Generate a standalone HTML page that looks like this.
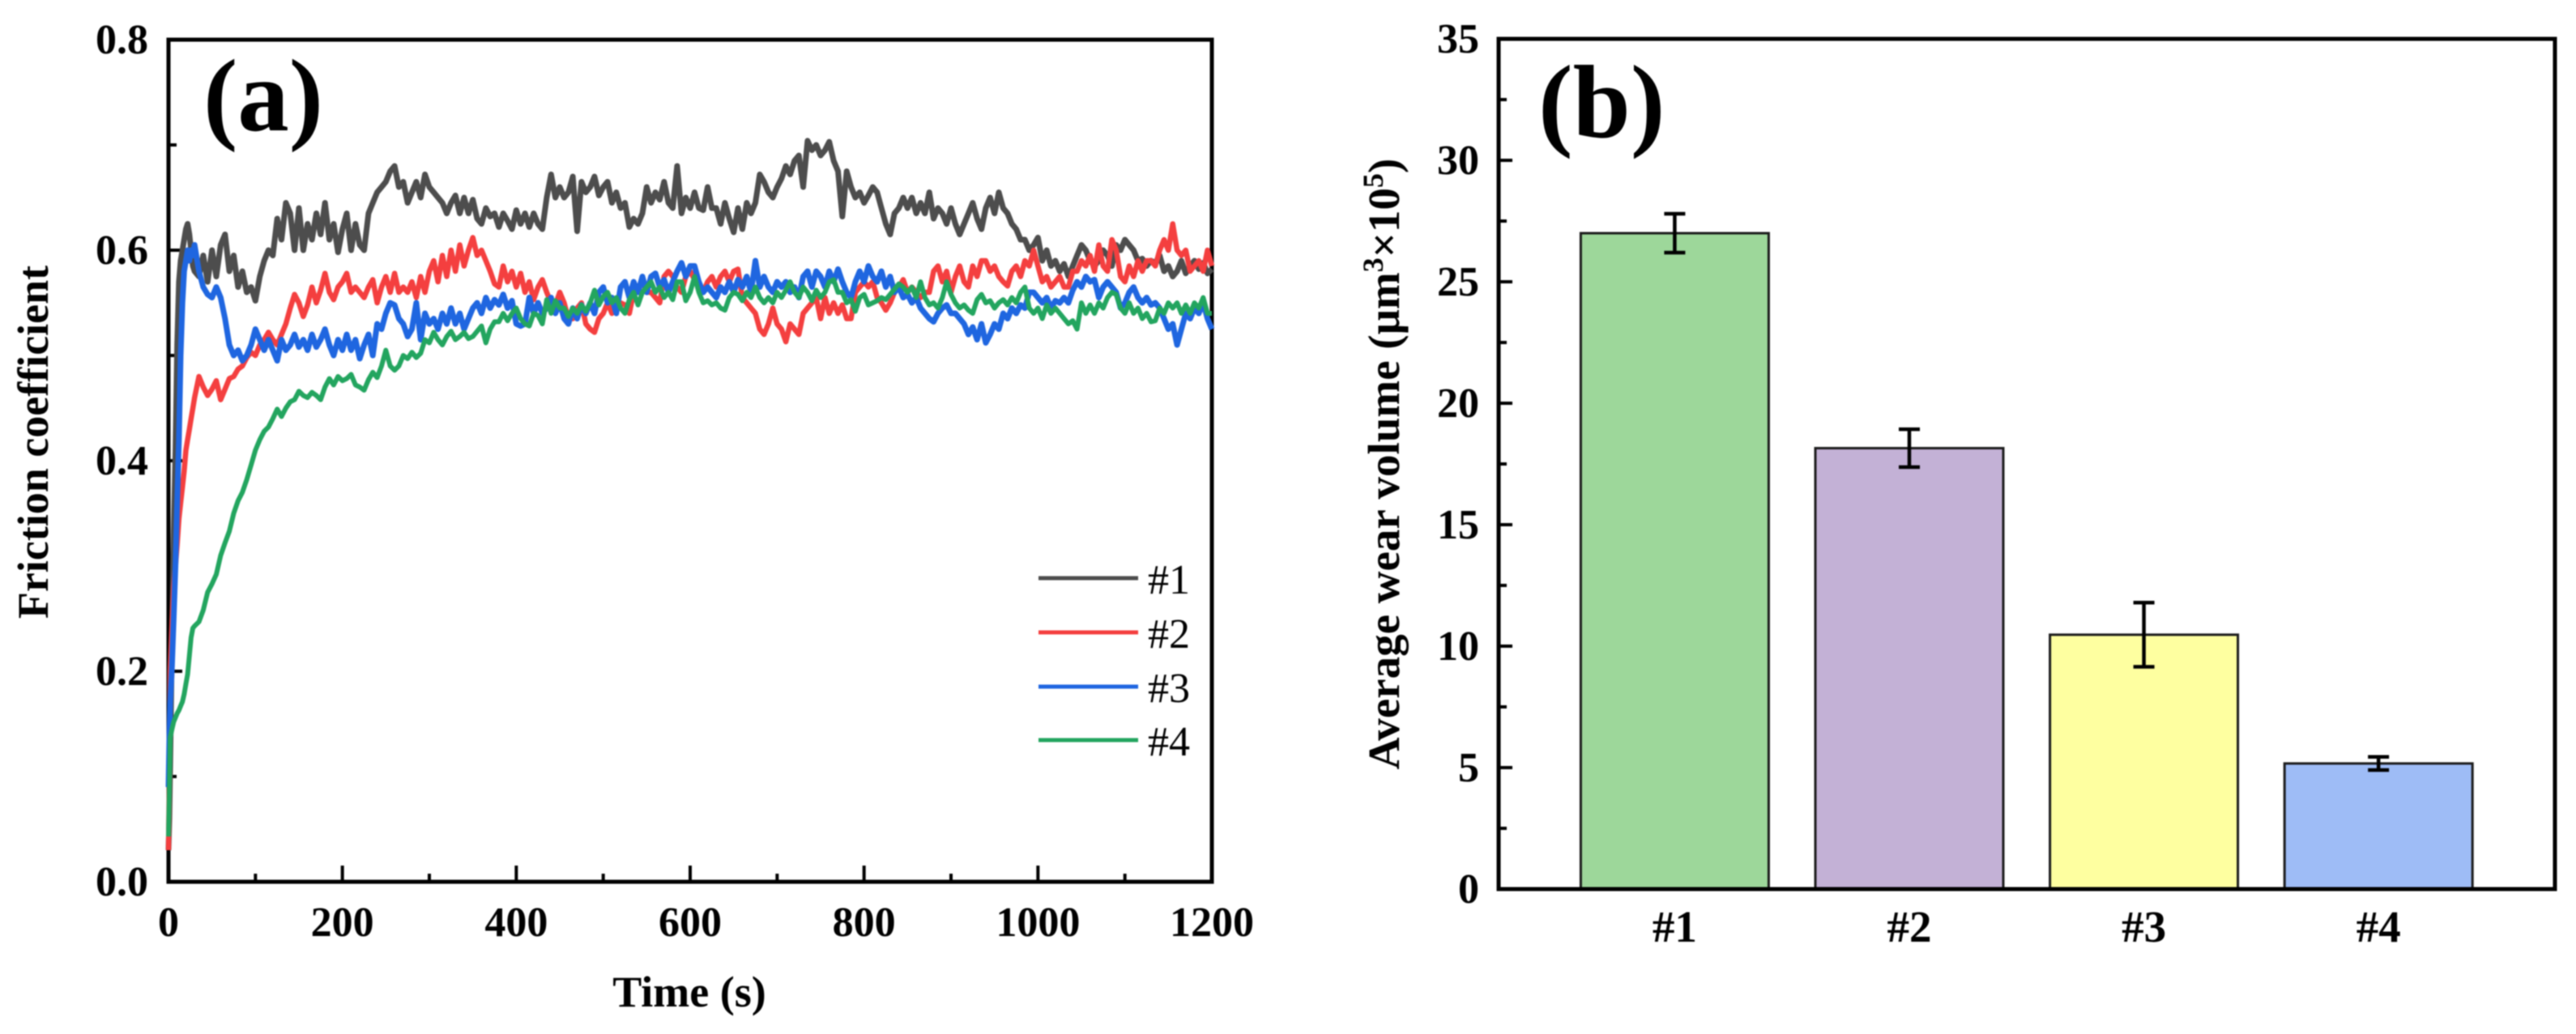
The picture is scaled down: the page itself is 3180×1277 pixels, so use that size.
<!DOCTYPE html>
<html lang="en">
<head>
<meta charset="utf-8">
<title>Friction coefficient and average wear volume</title>
<style>
html,body{margin:0;padding:0;background:#fff;width:3180px;height:1277px;overflow:hidden}
svg{display:block;filter:blur(0.8px)}
text{font-family:"Liberation Serif",serif;fill:#000}
.b{font-weight:bold}
</style>
</head>
<body>
<svg id="fig" xmlns="http://www.w3.org/2000/svg" width="3180" height="1277" viewBox="0 0 3180 1277">
<rect width="3180" height="1277" fill="#fff"/>
<g id="axesA"></g>
<g id="linesA" fill="none" stroke-linejoin="round" stroke-linecap="butt"></g>
<g id="axesB"></g>
<g id="barsB"></g>
<g id="frames"></g>
<text class="b" x="251" y="161" font-size="127">(a)</text>
<text class="b" x="1899" y="169" font-size="128">(b)</text>
<text class="b" x="59" y="546" font-size="54" text-anchor="middle" transform="rotate(-90 59 546)">Friction coefficient</text>
<text class="b" x="851" y="1243" font-size="54" text-anchor="middle">Time (s)</text>
<text class="b" x="1727" y="573" font-size="55" text-anchor="middle" transform="rotate(-90 1727 573)">Average wear volume (μm<tspan font-size="36" dy="-20">3</tspan><tspan dy="20">×10</tspan><tspan font-size="36" dy="-20">5</tspan><tspan dy="20">)</tspan></text>
<g>
<g><line x1="1282" x2="1405" y1="714" y2="714" stroke="#4d4d4d" stroke-width="5"/><text x="1417" y="733" font-size="52">#1</text></g>
<g><line x1="1282" x2="1405" y1="781" y2="781" stroke="#f43f3f" stroke-width="5"/><text x="1417" y="800" font-size="52">#2</text></g>
<g><line x1="1282" x2="1405" y1="848" y2="848" stroke="#1f66e0" stroke-width="5"/><text x="1417" y="867" font-size="52">#3</text></g>
<g><line x1="1282" x2="1405" y1="914" y2="914" stroke="#23a55f" stroke-width="5"/><text x="1417" y="933" font-size="52">#4</text></g>
</g>
</svg>
<script>
const timeSeconds = [0,1,2,4,6,8,10,12,14,16,18,20,22,24,26,28,30,
35,40,45,50,55,60,65,70,75,80,85,90,95,100,
105,110,115,120,125,130,135,140,145,150,155,160,165,170,175,180,185,190,195,200,
205,210,215,220,225,230,235,240,245,250,255,260,265,270,275,280,285,290,295,300,
305,310,315,320,325,330,335,340,345,350,355,360,365,370,375,380,385,390,395,400,
405,410,415,420,425,430,435,440,445,450,455,460,465,470,475,480,485,490,495,500,
505,510,515,520,525,530,535,540,545,550,555,560,565,570,575,580,585,590,595,600,
605,610,615,620,625,630,635,640,645,650,655,660,665,670,675,680,685,690,695,700,
705,710,715,720,725,730,735,740,745,750,755,760,765,770,775,780,785,790,795,800,
805,810,815,820,825,830,835,840,845,850,855,860,865,870,875,880,885,890,895,900,
905,910,915,920,925,930,935,940,945,950,955,960,965,970,975,980,985,990,995,1000,
1005,1010,1015,1020,1025,1030,1035,1040,1045,1050,1055,1060,1065,1070,1075,1080,1085,1090,1095,1100,
1105,1110,1115,1120,1125,1130,1135,1140,1145,1150,1155,1160,1165,1170,1175,1180,1185,1190,1195,1200];

const friction1 = [.03,.06,.11,.23,.33,.41,.51,.57,.59,.60,.61,.62,.625,.615,.60,.585,.58,
.575,.595,.57,.60,.575,.605,.615,.58,.595,.565,.58,.56,.565,.552,
.575,.59,.60,.595,.63,.61,.645,.635,.60,.64,.60,.625,.61,.635,.615,.645,.61,.625,.598,.62,
.635,.60,.625,.605,.60,.635,.645,.655,.66,.665,.675,.68,.66,.665,.645,.655,.665,.65,.672,.66,
.655,.65,.645,.635,.645,.652,.635,.65,.635,.648,.63,.625,.64,.632,.635,.622,.635,.628,.62,.638,
.625,.635,.622,.635,.625,.62,.65,.672,.65,.66,.65,.655,.67,.618,.665,.655,.66,.67,.652,.66,
.665,.645,.655,.64,.645,.622,.63,.625,.635,.66,.645,.655,.648,.665,.645,.64,.68,.635,.65,.64,
.655,.64,.638,.66,.64,.64,.625,.645,.63,.617,.64,.62,.645,.635,.645,.672,.665,.655,.65,.66,
.668,.68,.672,.685,.69,.66,.704,.695,.70,.69,.695,.703,.685,.675,.632,.675,.66,.65,.655,.645,
.652,.66,.655,.64,.625,.615,.635,.64,.65,.64,.65,.635,.645,.635,.655,.63,.64,.635,.625,.64,
.625,.615,.625,.635,.645,.63,.62,.64,.65,.635,.655,.64,.635,.625,.62,.61,.61,.60,.605,.612,
.59,.60,.585,.59,.58,.587,.575,.585,.595,.605,.60,.59,.585,.59,.60,.595,.585,.605,.60,.61,
.605,.60,.59,.592,.585,.59,.588,.595,.58,.585,.575,.58,.59,.578,.585,.59,.582,.588,.578,.582];

const friction2 = [.03,.10,.20,.245,.28,.30,.32,.345,.36,.375,.39,.41,.42,.43,.44,.45,.46,
.48,.47,.462,.468,.476,.458,.468,.478,.48,.487,.49,.498,.503,.50,
.51,.515,.522,.515,.51,.52,.53,.545,.558,.55,.537,.548,.565,.55,.562,.578,.56,.553,.565,.57,
.578,.56,.565,.56,.555,.565,.572,.55,.565,.575,.56,.578,.56,.565,.56,.57,.555,.575,.56,.58,
.59,.57,.595,.575,.60,.58,.605,.585,.60,.612,.595,.60,.59,.58,.568,.565,.585,.57,.58,.565,
.578,.56,.57,.553,.565,.572,.56,.55,.548,.56,.55,.535,.535,.545,.55,.53,.525,.522,.535,.54,
.55,.54,.545,.55,.548,.54,.56,.565,.57,.56,.56,.555,.55,.575,.58,.575,.565,.56,.575,.58,
.572,.565,.56,.57,.575,.565,.575,.58,.57,.58,.582,.555,.55,.545,.54,.525,.52,.53,.545,.53,
.525,.513,.53,.525,.52,.54,.545,.55,.555,.535,.555,.54,.55,.54,.548,.535,.535,.56,.565,.57,
.565,.57,.555,.55,.543,.55,.56,.565,.572,.56,.565,.56,.555,.56,.56,.58,.585,.57,.58,.56,
.575,.585,.57,.565,.585,.575,.59,.59,.58,.585,.575,.57,.566,.58,.585,.575,.59,.585,.60,.585,
.57,.575,.565,.57,.575,.565,.565,.58,.58,.59,.585,.595,.58,.605,.585,.58,.61,.60,.575,.57,
.585,.575,.59,.58,.59,.59,.585,.60,.61,.60,.625,.60,.595,.60,.58,.585,.59,.58,.60,.585];

const friction3 = [.09,.14,.17,.205,.25,.30,.36,.42,.50,.55,.58,.59,.60,.59,.60,.595,.605,
.58,.565,.558,.555,.565,.555,.535,.51,.50,.505,.495,.50,.51,.525,
.515,.505,.515,.505,.495,.515,.505,.51,.52,.508,.515,.505,.52,.508,.515,.525,.51,.50,.515,.505,
.52,.505,.515,.497,.51,.52,.50,.53,.525,.54,.55,.548,.535,.53,.518,.525,.55,.515,.54,.53,
.535,.525,.54,.53,.545,.53,.54,.525,.535,.545,.55,.54,.555,.545,.553,.548,.558,.545,.552,.53,
.528,.53,.555,.54,.55,.54,.545,.555,.54,.55,.535,.53,.545,.535,.548,.54,.55,.54,.56,.565,
.55,.555,.54,.565,.57,.555,.57,.56,.575,.56,.575,.578,.565,.572,.56,.57,.58,.588,.575,.585,
.585,.57,.56,.565,.56,.555,.565,.56,.57,.56,.572,.565,.575,.56,.59,.565,.575,.565,.56,.57,
.565,.57,.56,.565,.555,.575,.58,.565,.58,.575,.565,.58,.57,.582,.57,.56,.555,.57,.58,.57,
.585,.575,.57,.58,.565,.575,.56,.565,.555,.558,.55,.555,.545,.54,.535,.532,.54,.545,.548,.54,
.54,.535,.53,.52,.527,.515,.53,.512,.52,.53,.525,.54,.535,.545,.54,.548,.545,.56,.56,.555,
.55,.555,.545,.552,.55,.555,.55,.562,.57,.565,.575,.57,.572,.555,.565,.57,.565,.56,.545,.55,
.56,.565,.555,.55,.555,.548,.55,.545,.535,.525,.53,.51,.525,.54,.535,.545,.54,.55,.535,.525];

const friction4 = [.043,.09,.137,.145,.152,.156,.16,.163,.167,.171,.178,.188,.197,.215,.232,.241,.243,
.247,.258,.275,.283,.292,.31,.322,.333,.35,.362,.37,.382,.396,.41,
.42,.428,.432,.44,.449,.442,.45,.456,.458,.466,.462,.46,.465,.462,.458,.47,.478,.472,.48,.476,
.478,.482,.472,.47,.467,.477,.484,.479,.49,.505,.49,.486,.49,.50,.497,.503,.498,.502,.515,.512,
.522,.515,.51,.518,.523,.515,.518,.522,.516,.518,.523,.528,.512,.525,.532,.532,.54,.533,.54,.545,
.535,.53,.528,.54,.538,.53,.553,.54,.552,.545,.545,.537,.545,.54,.548,.542,.55,.562,.548,.556,
.56,.55,.555,.545,.54,.553,.56,.548,.56,.565,.57,.56,.565,.555,.56,.553,.57,.57,.552,.56,
.575,.56,.55,.552,.548,.55,.545,.543,.555,.56,.558,.552,.56,.555,.565,.555,.55,.555,.55,.56,
.555,.562,.57,.56,.555,.565,.56,.552,.562,.555,.56,.57,.572,.56,.56,.55,.553,.542,.555,.558,
.548,.55,.552,.555,.553,.558,.563,.568,.565,.56,.565,.555,.57,.555,.548,.55,.545,.555,.57,.558,
.55,.545,.548,.543,.54,.553,.558,.55,.552,.545,.55,.553,.548,.555,.55,.56,.565,.545,.54,.545,
.535,.548,.54,.545,.54,.535,.53,.533,.525,.55,.54,.548,.54,.55,.545,.555,.56,.558,.545,.54,
.55,.54,.545,.535,.54,.532,.533,.545,.54,.55,.545,.55,.54,.548,.54,.55,.545,.555,.54,.54];

const frictionMajorTicks = ["0.0","0.2","0.4","0.6","0.8"];
const frictionMinorTicks = [0.1,0.3,0.5,0.7];
const timeMajorTicks = [0,200,400,600,800,1000,1200];
const timeMinorTicks = [100,300,500,700,900,1100];

const wearCategories = ["#1","#2","#3","#4"];
const wearValues = [27.0,18.15,10.47,5.17];
const wearErrors = [0.8,0.78,1.32,0.27];
const wearMajorTicks = [0,5,10,15,20,25,30,35];
const wearMinorTicks = [2.5,7.5,12.5,17.5,22.5,27.5,32.5];

const NS = 'http://www.w3.org/2000/svg';
const xA = t => 208 + t * 1288 / 1200;
const yA = v => 1089 - v * 1300;
const xB = i => 1850 + (i + 0.7507) * 289.6;
const yB = v => 1098 - v * 30;

function mk(parent, tag, attrs, txt) {
  const el = document.createElementNS(NS, tag);
  for (const k in attrs) el.setAttribute(k, attrs[k]);
  if (txt !== undefined) el.textContent = txt;
  parent.appendChild(el);
  return el;
}

const axesA = document.getElementById('axesA');
const linesA = document.getElementById('linesA');
const axesB = document.getElementById('axesB');
const barsB = document.getElementById('barsB');
const frames = document.getElementById('frames');

frictionMajorTicks.forEach(function (lab) {
  const y = yA(parseFloat(lab));
  const tick = mk(axesA, 'line', {x1: 208, x2: 225, y1: y, y2: y, stroke: '#000', 'stroke-width': 4});
  
  
  const t = mk(axesA, 'text', {x: 183, y: y + 17, 'font-size': 52, 'font-weight': 'bold', 'text-anchor': 'end'}, lab);
  
  
});
frictionMinorTicks.forEach(function (v) {
  const y = yA(v);
  const tick = mk(axesA, 'line', {x1: 208, x2: 218, y1: y, y2: y, stroke: '#000', 'stroke-width': 4});
  
  
});
timeMajorTicks.forEach(function (v) {
  const x = xA(v);
  if (v > 0 && v < 1200) {
    const tick = mk(axesA, 'line', {x1: x, x2: x, y1: 1089, y2: 1069, stroke: '#000', 'stroke-width': 4});
    
    
  }
  const t = mk(axesA, 'text', {x: x, y: 1156, 'font-size': 52, 'font-weight': 'bold', 'text-anchor': 'middle'}, String(v));
  
  
});
timeMinorTicks.forEach(function (v) {
  const x = xA(v);
  const tick = mk(axesA, 'line', {x1: x, x2: x, y1: 1089, y2: 1079, stroke: '#000', 'stroke-width': 4});
  
  
});

const frameA = mk(axesA, 'rect', {x: 208, y: 49, width: 1288, height: 1040, fill: 'none', stroke: '#000', 'stroke-width': 5});



function drawFriction(values, colour, width, name) {
  let d = '';
  values.forEach(function (v, i) {
    d += (i ? 'L' : 'M') + xA(timeSeconds[i]).toFixed(1) + ' ' + yA(v).toFixed(1);
  });
  const p = mk(linesA, 'path', {d: d, stroke: colour, 'stroke-width': width});
  
  
}
drawFriction(friction1, '#4d4d4d', 7, 'series-1-line');
drawFriction(friction2, '#f43f3f', 6.5, 'series-2-line');
drawFriction(friction3, '#1f66e0', 7, 'series-3-line');
drawFriction(friction4, '#23a55f', 6, 'series-4-line');

wearMajorTicks.forEach(function (v) {
  const y = yB(v);
  const tick = mk(axesB, 'line', {x1: 1850, x2: 1867, y1: y, y2: y, stroke: '#000', 'stroke-width': 4});
  
  
  const t = mk(axesB, 'text', {x: 1826, y: y + 17, 'font-size': 52, 'font-weight': 'bold', 'text-anchor': 'end'}, String(v));
  
  
});
wearMinorTicks.forEach(function (v) {
  const y = yB(v);
  const tick = mk(axesB, 'line', {x1: 1850, x2: 1860, y1: y, y2: y, stroke: '#000', 'stroke-width': 4});
  
  
});

const barColours = ['#9dd79a', '#c3b1d6', '#feffa0', '#9ebcf6'];
const barWidth = 232;
wearCategories.forEach(function (cat, i) {
  const cx = xB(i);
  const top = yB(wearValues[i]);
  const bar = mk(barsB, 'rect', {x: cx - barWidth / 2, y: top, width: barWidth, height: yB(0) - top, fill: barColours[i], stroke: '#1c1c1c', 'stroke-width': 3});
  
  
  const hi = yB(wearValues[i] + wearErrors[i]);
  const lo = yB(wearValues[i] - wearErrors[i]);
  const eb = mk(barsB, 'path', {d: 'M' + (cx - 13) + ' ' + hi + 'H' + (cx + 13) + 'M' + cx + ' ' + hi + 'V' + lo + 'M' + (cx - 13) + ' ' + lo + 'H' + (cx + 13), fill: 'none', stroke: '#000', 'stroke-width': 4.5});
  
  
  const t = mk(barsB, 'text', {x: cx, y: 1163, 'font-size': 55, 'font-weight': 'bold', 'text-anchor': 'middle'}, cat);
  
  
});

const frameB = mk(frames, 'rect', {x: 1850, y: 48, width: 1304, height: 1050, fill: 'none', stroke: '#000', 'stroke-width': 5});


</script>
</body>
</html>
